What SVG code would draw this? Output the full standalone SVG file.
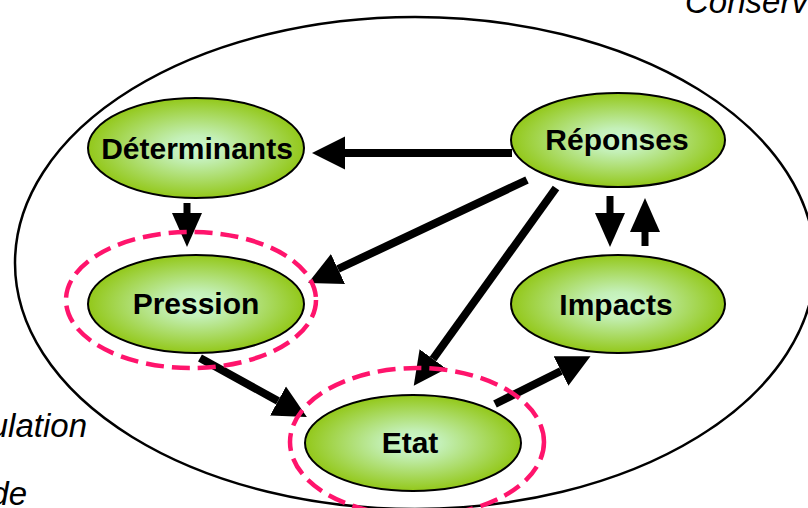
<svg xmlns="http://www.w3.org/2000/svg" width="808" height="508" viewBox="0 0 808 508">
<style>
.node{stroke:#000;stroke-width:2;fill:url(#g)}
.lbl{font-family:"Liberation Sans",Arial,sans-serif;font-weight:bold;font-size:30px;fill:#000;text-anchor:middle}
.side{font-family:"Liberation Sans",Arial,sans-serif;font-style:italic;font-size:33px;fill:#000}
.ar{stroke:#000;stroke-width:8;fill:none;marker-end:url(#ah)}
.ar2{stroke:#000;stroke-width:7;fill:none;marker-end:url(#ah2)}
.dash{fill:none;stroke:#ff146c;stroke-width:4.5;stroke-dasharray:18 8}
</style>
<defs>
<radialGradient id="g" cx="50%" cy="50%" r="50%">
<stop offset="0" stop-color="#cdf8cb"/>
<stop offset="0.25" stop-color="#c4f0b8"/>
<stop offset="1" stop-color="#93c81a"/>
</radialGradient>
<marker id="ah" markerUnits="userSpaceOnUse" markerWidth="40" markerHeight="40" viewBox="0 -20 40 40" refX="0" refY="0" orient="auto">
<path d="M0,-16.5 L33,0 L0,16.5 Z" fill="#000"/>
</marker>
<marker id="ah2" markerUnits="userSpaceOnUse" markerWidth="40" markerHeight="40" viewBox="0 -20 40 40" refX="0" refY="0" orient="auto">
<path d="M0,-15 L34,0 L0,15 Z" fill="#000"/>
</marker>
</defs>
<rect width="808" height="508" fill="#fff"/>
<ellipse cx="415" cy="263" rx="400" ry="246" fill="none" stroke="#000" stroke-width="2.5"/>
<text class="side" x="685" y="13">Conserv</text>
<text class="side" x="87" y="437" text-anchor="end">ulation</text>
<text class="side" x="27" y="505" text-anchor="end">de</text>
<g id="connectors">
<line class="ar" x1="512" y1="153" x2="345" y2="153"/>
<line class="ar2" x1="187" y1="203" x2="187" y2="213"/>
<line class="ar" x1="527" y1="180" x2="338" y2="269"/>
<line class="ar" x1="556" y1="188" x2="433" y2="359"/>
<line class="ar2" x1="610" y1="196" x2="610" y2="213"/>
<line class="ar2" x1="645" y1="246" x2="645" y2="232"/>
<line class="ar" x1="200" y1="358" x2="278" y2="401"/>
<line class="ar" x1="495" y1="404" x2="561" y2="371"/>
</g>
<g id="determinants">
<ellipse class="node" cx="196" cy="148" rx="108" ry="50"/>
<text class="lbl" x="197" y="159">Déterminants</text>
</g>
<g id="reponses">
<ellipse class="node" cx="618" cy="140" rx="107" ry="47"/>
<text class="lbl" x="617" y="150">Réponses</text>
</g>
<g id="pression">
<ellipse class="node" cx="196" cy="304" rx="108" ry="49"/>
<text class="lbl" x="196" y="314">Pression</text>
</g>
<g id="impacts">
<ellipse class="node" cx="618" cy="304" rx="107" ry="49"/>
<text class="lbl" x="616" y="315">Impacts</text>
</g>
<g id="etat">
<ellipse class="node" cx="413" cy="443" rx="108" ry="48"/>
<text class="lbl" x="410" y="453">Etat</text>
</g>
<ellipse class="dash" cx="191" cy="300" rx="125" ry="68"/>
<ellipse class="dash" cx="417" cy="442" rx="127" ry="74"/>
</svg>
